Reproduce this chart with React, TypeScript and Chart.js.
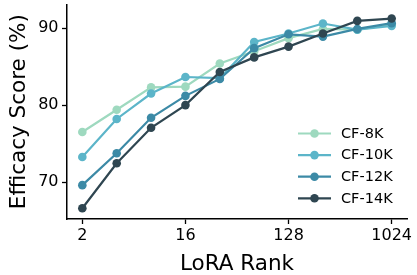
import React, { useEffect, useRef } from "react";
import { Chart, registerables } from "chart.js";

Chart.register(...registerables);

const ranks = [2, 4, 8, 16, 32, 64, 128, 256, 512, 1024];
const xTickValues = [2, 16, 128, 1024];
const yTickValues = [70, 80, 90];
const seriesNames = ["CF-8K", "CF-10K", "CF-12K", "CF-14K"];
const cf8k = [76.5, 79.4, 82.3, 82.4, 85.4, 87.0, 88.7, 89.9, 89.8, 90.5];
const cf10k = [73.25, 78.2, 81.5, 83.65, 83.5, 88.2, 89.3, 90.6, 89.8, 90.3];
const cf12k = [69.6, 73.75, 78.35, 81.2, 83.4, 87.4, 89.2, 88.9, 89.9, 90.65];
const cf14k = [66.6, 72.45, 77.05, 80.0, 84.3, 86.2, 87.6, 89.3, 90.95, 91.25];
const seriesColors = ["#9ed9bf", "#5cb5c9", "#3c8aa6", "#2f4651"];

const FONT = "'DejaVu Sans', sans-serif";

export default function App() {
  const ref = useRef<HTMLCanvasElement | null>(null);

  useEffect(() => {
    if (!ref.current) return;
    const allSeries = [cf8k, cf10k, cf12k, cf14k];
    const datasets = allSeries.map((vals, i) => ({
      label: seriesNames[i],
      data: ranks.map((r, j) => ({ x: r, y: vals[j] })),
      borderColor: seriesColors[i],
      backgroundColor: seriesColors[i],
      borderWidth: 2.2,
      pointRadius: 4.3,
      pointBorderWidth: 0,
      pointHoverRadius: 4.3,
      tension: 0,
      order: 4 - i,
    }));

    const legendPlugin = {
      id: "mplLegend",
      afterDraw(chart: any) {
        const ctx = chart.ctx;
        ctx.save();
        const x0 = 298;
        const x1 = 331;
        const tx = 341;
        const y0 = 133.5;
        const dy = 21.6;
        seriesNames.forEach((name, i) => {
          const y = y0 + i * dy;
          ctx.strokeStyle = seriesColors[i];
          ctx.lineWidth = 2.2;
          ctx.beginPath();
          ctx.moveTo(x0, y);
          ctx.lineTo(x1, y);
          ctx.stroke();
          ctx.fillStyle = seriesColors[i];
          ctx.beginPath();
          ctx.arc((x0 + x1) / 2, y, 4.3, 0, Math.PI * 2);
          ctx.fill();
          ctx.fillStyle = "#000";
          ctx.font = `14.5px ${FONT}`;
          ctx.textBaseline = "middle";
          ctx.textAlign = "left";
          ctx.fillText(name, tx, y + 0.5);
        });
        ctx.restore();
      },
    };

    const chart = new Chart(ref.current, {
      type: "line",
      data: { datasets },
      options: {
        animation: false,
        responsive: false,
        maintainAspectRatio: false,
        layout: { padding: { top: 3, right: 10, left: 0, bottom: 0 } },
        plugins: {
          legend: { display: false },
          tooltip: { enabled: false },
        },
        scales: {
          x: {
            type: "logarithmic",
            min: Math.pow(2, 0.554),
            max: Math.pow(2, 10.446),
            afterBuildTicks: (axis: any) => {
              axis.ticks = xTickValues.map((v) => ({ value: v }));
            },
            afterFit: (axis: any) => {
              axis.height = 56;
              axis.paddingLeft = 0;
              axis.paddingRight = 0;
            },
            ticks: {
              autoSkip: false,
              maxRotation: 0,
              color: "#000",
              padding: 2.5,
              font: { family: FONT, size: 16 },
              callback: (v: any) => String(v),
            },
            grid: {
              display: true,
              drawOnChartArea: false,
              drawTicks: true,
              tickLength: 5,
              tickWidth: 1.3,
              tickColor: "#000",
            },
            border: { display: true, color: "#000", width: 1.5 },
            title: {
              display: true,
              text: "LoRA Rank",
              color: "#000",
              font: { family: FONT, size: 21.5 },
              padding: { top: 0, bottom: -2 },
            },
          },
          y: {
            type: "linear",
            min: 65.2,
            max: 93.1,
            afterBuildTicks: (axis: any) => {
              axis.ticks = yTickValues.map((v) => ({ value: v }));
            },
            afterFit: (axis: any) => {
              axis.width = 67;
              axis.paddingTop = 0;
              axis.paddingBottom = 0;
            },
            ticks: {
              color: "#000",
              padding: 3.5,
              font: { family: FONT, size: 16 },
              callback: (v: any) => String(v),
            },
            grid: {
              display: true,
              drawOnChartArea: false,
              drawTicks: true,
              tickLength: 5,
              tickWidth: 1.3,
              tickColor: "#000",
            },
            border: { display: true, color: "#000", width: 1.5 },
            title: {
              display: true,
              text: "Efficacy Score (%)",
              color: "#000",
              font: { family: FONT, size: 21.5 },
              padding: { top: 7, bottom: 0 },
            },
          },
        },
      },
      plugins: [legendPlugin],
    } as any);

    return () => chart.destroy();
  }, []);

  return (
    <div style={{ position: "fixed", left: 0, top: 0, width: 417, height: 275, background: "#fff" }}>
      <canvas ref={ref} width={417} height={275} style={{ width: 417, height: 275, display: "block" }} />
    </div>
  );
}
